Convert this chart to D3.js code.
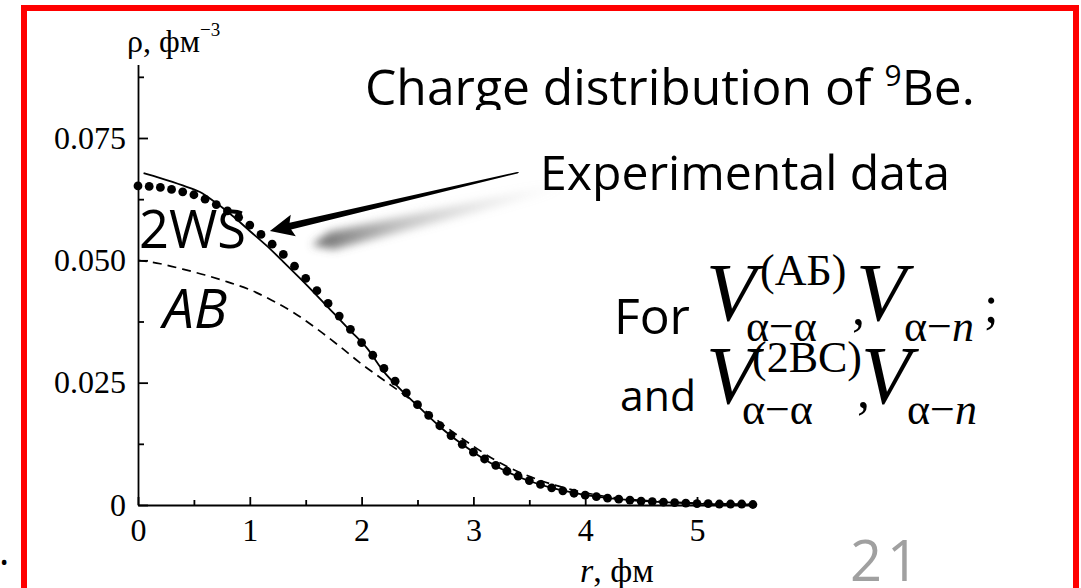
<!DOCTYPE html>
<html>
<head>
<meta charset="utf-8">
<script src="https://cdn.jsdelivr.net/npm/d3@7"></script>
<style>
  html, body { margin: 0; padding: 0; background: #fff; }
  svg { display: block; }
</style>
</head>
<body>
<svg id="chart" width="1081" height="588"></svg>
<script>
// Experimental charge density of 9Be (points), r in fm, rho in fm^-3
const expR = [0.0, 0.1, 0.2, 0.3, 0.4, 0.5, 0.6, 0.7, 0.8, 0.9,
              1.0, 1.1, 1.2, 1.3, 1.4, 1.5, 1.6, 1.7, 1.8, 1.9,
              2.0, 2.1, 2.2, 2.3, 2.4, 2.5, 2.6, 2.7, 2.8, 2.9,
              3.0, 3.1, 3.2, 3.3, 3.4, 3.5, 3.6, 3.7, 3.8, 3.9,
              4.0, 4.1, 4.2, 4.3, 4.4, 4.5, 4.6, 4.7, 4.8, 4.9,
              5.0, 5.1, 5.2, 5.3, 5.4, 5.5];
const expRho = [0.0652, 0.0651, 0.0649, 0.0645, 0.0640, 0.0634, 0.0625, 0.0614, 0.0601, 0.0588,
                0.0572, 0.0553, 0.0533, 0.0512, 0.0488, 0.0463, 0.0438, 0.0412, 0.0386, 0.0359,
                0.0332, 0.0306, 0.0279, 0.0253, 0.0229, 0.0205, 0.0183, 0.0162, 0.0142, 0.0124,
                0.0108, 0.0094, 0.0081, 0.0069, 0.0059, 0.0050, 0.0042, 0.0035, 0.0029, 0.0024,
                0.0020, 0.0017, 0.0014, 0.0012, 0.0010, 0.0008, 0.0007, 0.0006, 0.0005, 0.0004,
                0.0003, 0.0003, 0.0002, 0.0002, 0.0002, 0.0001];

// Calculation with the 2WS alpha-alpha potential (solid)
const wsR   = [0.05, 0.2, 0.4, 0.55, 0.7, 0.85, 1.0, 1.15, 1.3, 1.45, 1.6, 1.75, 1.9, 2.05,
               2.2, 2.35, 2.5, 2.7, 2.9, 3.1, 3.3, 3.5, 3.7, 3.9, 4.1, 4.4, 4.7, 5.0, 5.5];
const wsRho = [0.0678, 0.0668, 0.0653, 0.0640, 0.0617, 0.0590, 0.0560, 0.0530, 0.0497, 0.0463,
               0.0428, 0.0392, 0.0356, 0.0320, 0.0272, 0.0236, 0.0203, 0.0160, 0.0124, 0.0093,
               0.0068, 0.0049, 0.0035, 0.0025, 0.0017, 0.0010, 0.0006, 0.0003, 0.0001];

// Calculation with the AB alpha-alpha potential (dashed)
const abR   = [0.0, 0.2, 0.4, 0.6, 0.8, 1.0, 1.2, 1.4, 1.6, 1.8, 2.0, 2.2, 2.4, 2.6, 2.8,
               3.0, 3.2, 3.4, 3.6, 3.8, 4.0, 4.3, 4.6, 5.0, 5.5];
const abRho = [0.0500, 0.0493, 0.0482, 0.0470, 0.0456, 0.0440, 0.0418, 0.0392, 0.0360, 0.0325,
               0.0288, 0.0255, 0.0222, 0.0187, 0.0152, 0.0120, 0.0091, 0.0068, 0.0050, 0.0036,
               0.0025, 0.0014, 0.0008, 0.0004, 0.0001];

const xTicks = [0, 1, 2, 3, 4, 5];
const xMinorTicks = [0.5, 1.5, 2.5, 3.5, 4.5];
const yTicks = [0, 0.025, 0.05, 0.075];
const yTickLabels = ["0", "0.025", "0.050", "0.075"];
const yMinorTicks = [0.0125, 0.0375, 0.0625, 0.0875];

const SERIF = "'Liberation Serif', 'Times New Roman', serif";
const HAND = "'Open Sans', sans-serif";

const svg = d3.select("#chart");
const x = d3.scaleLinear().domain([0, 5.5]).range([138, 752.9]);
const y = d3.scaleLinear().domain([0, 0.09]).range([505, 64.6]);

// slide frame
svg.append("rect").attr("x", 24).attr("y", 8).attr("width", 1052).attr("height", 640)
  .attr("fill", "none").attr("stroke", "#ff0000").attr("stroke-width", 6);

// bullet and slide number
svg.append("text").attr("x", 0).attr("y", 570).attr("font-family", HAND).attr("font-size", 22)
  .attr("fill", "#000").text("•");
svg.append("text").attr("x", 850).attr("y", 581).attr("font-family", HAND).attr("font-size", 56)
  .attr("letter-spacing", 5).attr("fill", "#a0a0a0").text("21");

// axes
svg.append("g").attr("transform", `translate(0,${y(0)})`)
  .call(d3.axisBottom(x).tickValues(xTicks).tickFormat(d3.format("d"))
        .tickSize(-8).tickSizeOuter(0).tickPadding(13));
svg.append("g").attr("transform", `translate(0,${y(0)})`)
  .call(d3.axisBottom(x).tickValues(xMinorTicks).tickFormat("").tickSize(-5).tickSizeOuter(0))
  .select(".domain").remove();
svg.append("g").attr("transform", `translate(${x(0)},0)`)
  .call(d3.axisLeft(y).tickValues(yTicks).tickFormat((d, i) => yTickLabels[i])
        .tickSize(-10).tickSizeOuter(0).tickPadding(12));
svg.append("g").attr("transform", `translate(${x(0)},0)`)
  .call(d3.axisLeft(y).tickValues(yMinorTicks).tickFormat("").tickSize(-6).tickSizeOuter(0))
  .select(".domain").remove();

svg.selectAll(".domain, .tick line").attr("stroke", "#000").attr("stroke-width", 1.8);
svg.selectAll(".tick text").attr("font-family", SERIF).attr("font-size", 32).attr("fill", "#000");

// axis titles
const yTitle = svg.append("text").attr("x", 127).attr("y", 52)
  .attr("font-family", SERIF).attr("font-size", 32).attr("fill", "#000");
yTitle.append("tspan").text("ρ, фм");
yTitle.append("tspan").attr("font-size", 19).attr("dy", -16).text("−3");

const xTitle = svg.append("text").attr("x", 580).attr("y", 582)
  .attr("font-family", SERIF).attr("font-size", 34).attr("fill", "#000");
xTitle.append("tspan").attr("font-style", "italic").text("r");
xTitle.append("tspan").text(", фм");

// curves
const lineGen = d3.line().x(d => x(d[0])).y(d => y(d[1])).curve(d3.curveMonotoneX);
svg.append("path").datum(abR.map((r, i) => [r, abRho[i]]))
  .attr("d", lineGen).attr("fill", "none").attr("stroke", "#000")
  .attr("stroke-width", 1.7).attr("stroke-dasharray", "9,6");
svg.append("path").datum(wsR.map((r, i) => [r, wsRho[i]]))
  .attr("d", lineGen).attr("fill", "none").attr("stroke", "#000").attr("stroke-width", 1.8);

svg.append("g").selectAll("circle").data(expR.map((r, i) => [r, expRho[i]])).join("circle")
  .attr("cx", d => x(d[0])).attr("cy", d => y(d[1])).attr("r", 4.4).attr("fill", "#000");

// text labels
function fitWidth(sel, w) {
  const len = sel.node().getComputedTextLength();
  const fs = parseFloat(sel.attr("font-size"));
  sel.attr("font-size", (fs * w / len).toFixed(2));
  return sel;
}

const defs = svg.append("defs");
defs.append("clipPath").attr("id", "titleClip")
  .append("rect").attr("x", 0).attr("y", 0).attr("width", 1081).attr("height", 110);
defs.append("filter").attr("id", "soft").attr("x", "-20%").attr("y", "-50%")
  .attr("width", "140%").attr("height", "200%")
  .append("feGaussianBlur").attr("stdDeviation", 4.5);
const shadowGrad = defs.append("linearGradient").attr("id", "shadowGrad")
  .attr("gradientUnits", "userSpaceOnUse")
  .attr("x1", x(1.6)).attr("y1", y(0.053)).attr("x2", x(3.8)).attr("y2", y(0.064));
shadowGrad.append("stop").attr("offset", 0).attr("stop-color", "#555").attr("stop-opacity", 0.85);
shadowGrad.append("stop").attr("offset", 0.35).attr("stop-color", "#888").attr("stop-opacity", 0.5);
shadowGrad.append("stop").attr("offset", 1).attr("stop-color", "#bbb").attr("stop-opacity", 0.0);

const title = svg.append("text").attr("x", 365).attr("y", 105).attr("clip-path", "url(#titleClip)")
  .attr("font-family", HAND).attr("font-size", 40).attr("fill", "#000");
title.append("tspan").text("Charge distribution of ");
title.append("tspan").attr("font-size", 24).attr("dy", -15).text("9");
title.append("tspan").attr("dy", 15).text("Be.");
{
  const len = title.node().getComputedTextLength();
  const k = 610 / len;
  title.attr("font-size", 40 * k);
  title.selectAll("tspan").filter((d, i) => i === 1).attr("font-size", 24 * k).attr("dy", -15 * k);
  title.selectAll("tspan").filter((d, i) => i === 2).attr("dy", 15 * k);
}

fitWidth(svg.append("text").attr("x", 540).attr("y", 190).attr("font-family", HAND)
  .attr("font-size", 42).attr("fill", "#000").text("Experimental data"), 410);
fitWidth(svg.append("text").attr("x", 139).attr("y", 248).attr("font-family", HAND)
  .attr("font-size", 46).attr("fill", "#000").text("2WS"), 107);
fitWidth(svg.append("text").attr("x", 163).attr("y", 328).attr("font-family", HAND)
  .attr("font-style", "italic").attr("font-size", 46).attr("fill", "#000").text("AB"), 64);
fitWidth(svg.append("text").attr("x", 614).attr("y", 334).attr("font-family", HAND)
  .attr("font-size", 44).attr("fill", "#000").text("For"), 76);
fitWidth(svg.append("text").attr("x", 620).attr("y", 411).attr("font-family", HAND)
  .attr("font-size", 44).attr("fill", "#000").text("and"), 76);

// potentials written as formulas: big V with superscript/subscript
function mathRow(o) {
  const g = svg.append("g").attr("font-family", SERIF).attr("fill", "#000");
  const vSize = 82, sSize = 44;
  g.append("text").attr("x", o.v1).attr("y", o.base).attr("font-size", vSize)
    .attr("font-style", "italic").text("V");
  g.append("text").attr("x", o.sup).attr("y", o.base - o.supUp).attr("font-size", sSize).text(o.supText);
  g.append("text").attr("x", o.sub1).attr("y", o.base + 21).attr("font-size", sSize).text("α−α");
  g.append("text").attr("x", o.comma).attr("y", o.base + 4).attr("font-size", 52).text(",");
  g.append("text").attr("x", o.v2).attr("y", o.base).attr("font-size", vSize)
    .attr("font-style", "italic").text("V");
  const s2 = g.append("text").attr("x", o.sub2).attr("y", o.base + 21).attr("font-size", sSize);
  s2.append("tspan").text("α−");
  s2.append("tspan").attr("font-style", "italic").text("n");
  if (o.semi) g.append("text").attr("x", o.semi).attr("y", o.base + 2).attr("font-size", 52).text(";");
}
mathRow({ base: 320, v1: 706, sup: 760, supUp: 35, supText: "(АБ)", sub1: 746,
          comma: 852, v2: 856, sub2: 904, semi: 984 });
mathRow({ base: 403, v1: 706, sup: 752, supUp: 31, supText: "(2ВС)", sub1: 742,
          comma: 857, v2: 861, sub2: 907 });

// pointer from the "Experimental data" caption to the points
const tip = [x(1.18), y(0.056)];
const tail = [x(3.41), y(0.068)];
{
  const dx = tail[0] - tip[0], dy = tail[1] - tip[1];
  const L = Math.hypot(dx, dy);
  const ux = dx / L, uy = dy / L, px = -uy, py = ux;
  const P = (t, w) => [tip[0] + ux * t + px * w, tip[1] + uy * t + py * w];
  const headLen = 24, headW = 11;
  const pts = [P(0, 0), P(headLen, headW), P(headLen - 3, 3.5), P(L - 2, 0.8), P(L, 0),
               P(L - 2, -0.8), P(headLen - 3, -3.5), P(headLen, -headW)];
  // soft drop shadow
  const S = (t, w) => [tip[0] + 42 + ux * t + px * w, tip[1] + 14 + uy * t + py * w];
  svg.insert("path", "text")
    .attr("d", d3.line()([S(0, 0), S(20, 9), S(L, 3), S(L, -3), S(20, -9)]) + "Z")
    .attr("fill", "url(#shadowGrad)").attr("filter", "url(#soft)");
  svg.append("path").attr("d", d3.line()(pts) + "Z").attr("fill", "#000");
}
</script>
</body>
</html>
